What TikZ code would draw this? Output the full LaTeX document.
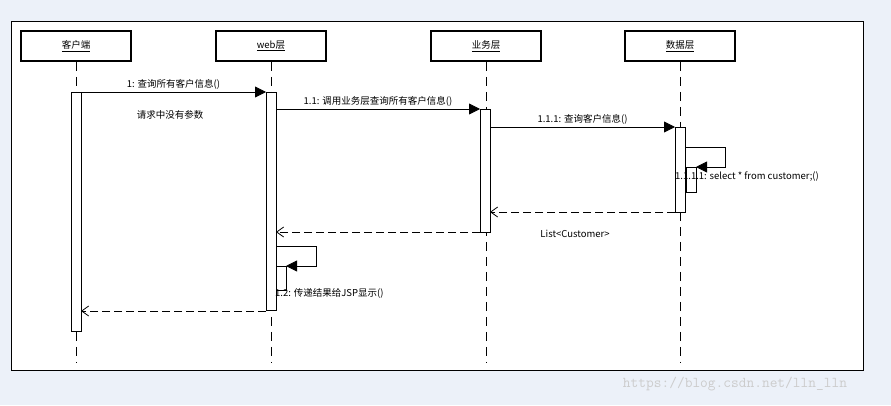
\documentclass[tikz,border=0pt]{standalone}
\usepackage{fontspec}
\setmainfont{Liberation Sans}
\newfontfamily\cjk{Noto Sans CJK SC}
\usetikzlibrary{arrows.meta}
\definecolor{bgc}{HTML}{ECF1F9}
\tikzset{x=1pt,y=-1pt,
 obj/.style={draw,line width=1.6pt,fill=white,minimum width=110pt,minimum height=30pt,inner sep=0pt,font=\cjk\fontsize{9.5}{9.5}\selectfont},
 bar/.style={draw,fill=white,line width=0.8pt},
 life/.style={dash pattern=on 9pt off 6pt,line width=0.6pt},
 msg/.style={line width=0.8pt,-{Triangle[length=11pt,width=11pt]}},
 ret/.style={line width=0.8pt,dash pattern=on 8pt off 4pt,-{Straight Barb[length=7pt,width=10pt]}},
 lbl/.style={font=\cjk\fontsize{9.5}{9.5}\selectfont,inner sep=1pt}}
\begin{document}
\begin{tikzpicture}
\fill[bgc] (0,0) rectangle (891,405);
\useasboundingbox (0,0) rectangle (891,405);
\draw[fill=white,line width=0.8pt] (11,21) rectangle (863,370);
\foreach \n/\x/\t in {c/76/客户端,w/271/web层,b/486/业务层,d/680/数据层}{
 \node[obj] (\n) at (\x,46) {\underline{\t}};
 \coordinate (\n e) at (\x,362);
 \draw[life] (\n.south) -- (\n e);
}
\draw[bar] (71,92) rectangle (81,331);
\draw[bar] (266,92) rectangle (276,310);
\draw[bar] (480,109) rectangle (490,232);
\draw[bar] (675,127) rectangle (685,212);
\draw[bar] (686,167) rectangle (696,192);
\draw[bar] (276,266) rectangle (286,290);
\coordinate (m1a) at (81,92); \coordinate (m1b) at (266,92);
\coordinate (m2a) at (276,109); \coordinate (m2b) at (480,109);
\coordinate (m3a) at (490,127); \coordinate (m3b) at (675,127);
\coordinate (r1a) at (675,212); \coordinate (r1b) at (490,212);
\coordinate (r2a) at (480,232); \coordinate (r2b) at (276,232);
\coordinate (r3a) at (266,311); \coordinate (r3b) at (81,311);
\draw[msg] (m1a) -- node[lbl,above=1pt] {1: 查询所有客户信息()} (m1b);
\draw[msg] (m2a) -- node[lbl,above=1pt] {1.1: 调用业务层查询所有客户信息()} (m2b);
\draw[msg] (m3a) -- node[lbl,above=1pt] {1.1.1: 查询客户信息()} (m3b);
\draw[msg] (685,147) -- (725,147) -- (725,167) -- (696,167);
\draw[msg] (276,246) -- (316,246) -- (316,266) -- (286,266);
\draw[ret] (r1a) -- (r1b);
\draw[ret] (r2a) -- (r2b);
\draw[ret] (r3a) -- (r3b);
\node[lbl,anchor=west] (s1) at (674,177) {1.1.1.1: select * from customer;()};
\node[lbl] (lc) at (575,234) {List<Customer>};
\node[lbl,anchor=west] (s2) at (274,293) {1.2: 传递结果给JSP显示()};
\node[lbl] (note) at (170,115) {请求中没有参数};
\node[font=\ttfamily\fontsize{15}{15}\selectfont,text=gray!40] (wm) at (735,384) {https://blog.csdn.net/lln\_lln};
\end{tikzpicture}
\end{document}
